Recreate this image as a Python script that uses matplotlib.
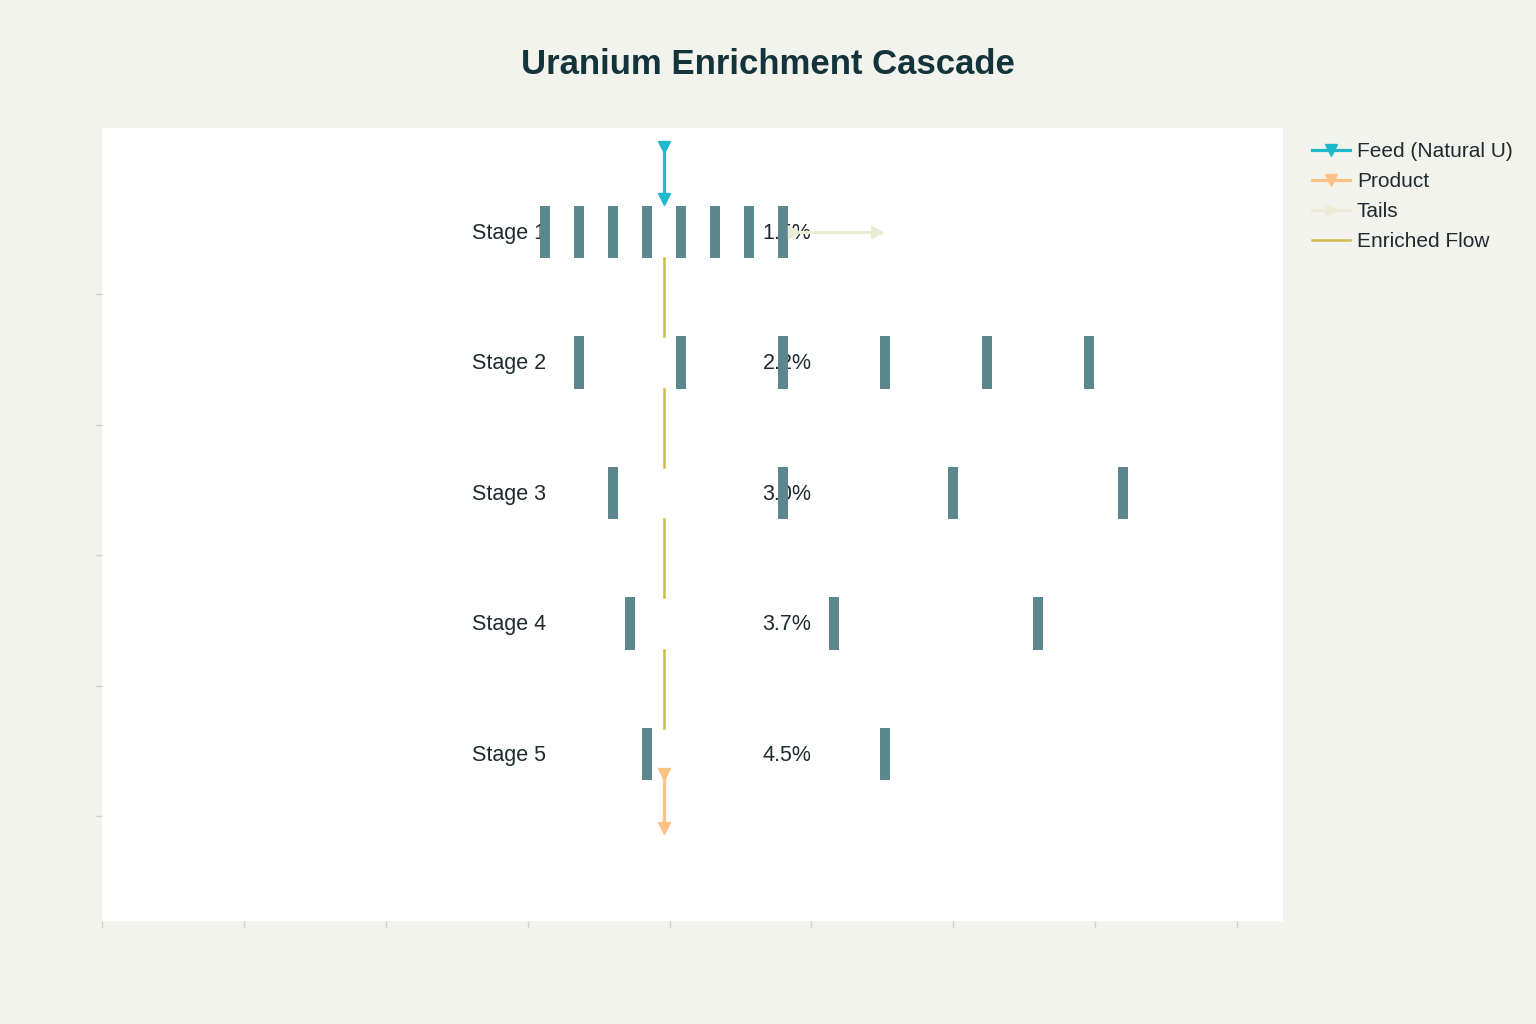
import matplotlib
matplotlib.use("Agg")
import numpy as np
from matplotlib import pyplot as plt

# cascade data
stages = ["Stage 1", "Stage 2", "Stage 3", "Stage 4", "Stage 5"]
stage_y = [0, -1, -2, -3, -4]
enrichment = ["1.5%", "2.2%", "3.0%", "3.7%", "4.5%"]
centrifuge_x = [
    [-0.84, -0.60, -0.36, -0.12, 0.12, 0.36, 0.60, 0.84],
    [-0.60, 0.12, 0.84, 1.56, 2.28, 3.00],
    [-0.36, 0.84, 2.04, 3.24],
    [-0.24, 1.20, 2.64],
    [-0.12, 1.56],
]
feed_x = [0, 0]
feed_y = [0.65, 0.25]
product_x = [0, 0]
product_y = [-4.15, -4.57]
tails_x = [0.92, 1.50]
tails_y = [0, 0]
flow_top = [-0.2, -1.2, -2.2, -3.2]
flow_bottom = [-0.8, -1.8, -2.8, -3.8]

BG = "#F3F3EE"
TEXT = "#13343B"

plt.rcParams['font.family'] = ['Liberation Sans', 'DejaVu Sans']

fig = plt.figure(figsize=(15.36, 10.24), dpi=100, facecolor=BG)
ax = fig.add_axes([102 / 1536, 1 - 921 / 1024, (1283 - 102) / 1536, (921 - 128) / 1024])
ax.set_facecolor("white")

# labels (drawn under the bars, as in the original)
for name, y, pct in zip(stages, stage_y, enrichment):
    ax.text(-0.83, y - 0.01, name, ha="right", va="center", fontsize=15.5, color="#1F2A2E", zorder=1)
    ax.text(1.04, y - 0.01, pct, ha="right", va="center", fontsize=15.5, color="#1F2A2E", zorder=1)

# centrifuges
for xs, y in zip(centrifuge_x, stage_y):
    ax.bar(xs, 0.4, width=0.07, bottom=y - 0.2, color="#5D878F", zorder=2)

# flows
ax.plot(feed_x, feed_y, color="#1FB8CD", lw=2.3, marker="v", ms=9, zorder=4,
        label="Feed (Natural U)")
ax.plot(product_x, product_y, color="#FFC185", lw=2.3, marker="v", ms=9, zorder=4,
        label="Product")
ax.plot(tails_x, tails_y, color="#ECEBD5", lw=2.3, marker=">", ms=9, zorder=4,
        label="Tails")
for i, (t, b) in enumerate(zip(flow_top, flow_bottom)):
    ax.plot([0, 0], [t, b], color="#D2BA4C", lw=1.8, zorder=3,
            label="Enriched Flow" if i == 0 else None)

ax.set_xlim(-3.963, 4.365)
ax.set_ylim(-5.28, 0.797)
ax.set_xticks(np.arange(9) * 1.0005 - 3.963)
ax.set_yticks(np.array(stage_y) - 0.477)
ax.tick_params(colors="#D0D0CC", length=5, width=1, labelbottom=False, labelleft=False)
for s in ax.spines.values():
    s.set_visible(False)

fig.text(0.5, 1 - 65 / 1024, "Uranium Enrichment Cascade", ha="center", va="center",
         fontsize=25, fontweight="bold", color=TEXT)

ax.legend(loc="upper left", bbox_to_anchor=(1312 / 1536, 1 - 142 / 1024),
          bbox_transform=fig.transFigure, frameon=False, fontsize=15,
          borderpad=0, borderaxespad=0, handlelength=1.8, handletextpad=0.35,
          labelspacing=0.53, labelcolor="#1F2A2E", markerscale=0.9)

fig.savefig("out.png", dpi=100, facecolor=BG)
